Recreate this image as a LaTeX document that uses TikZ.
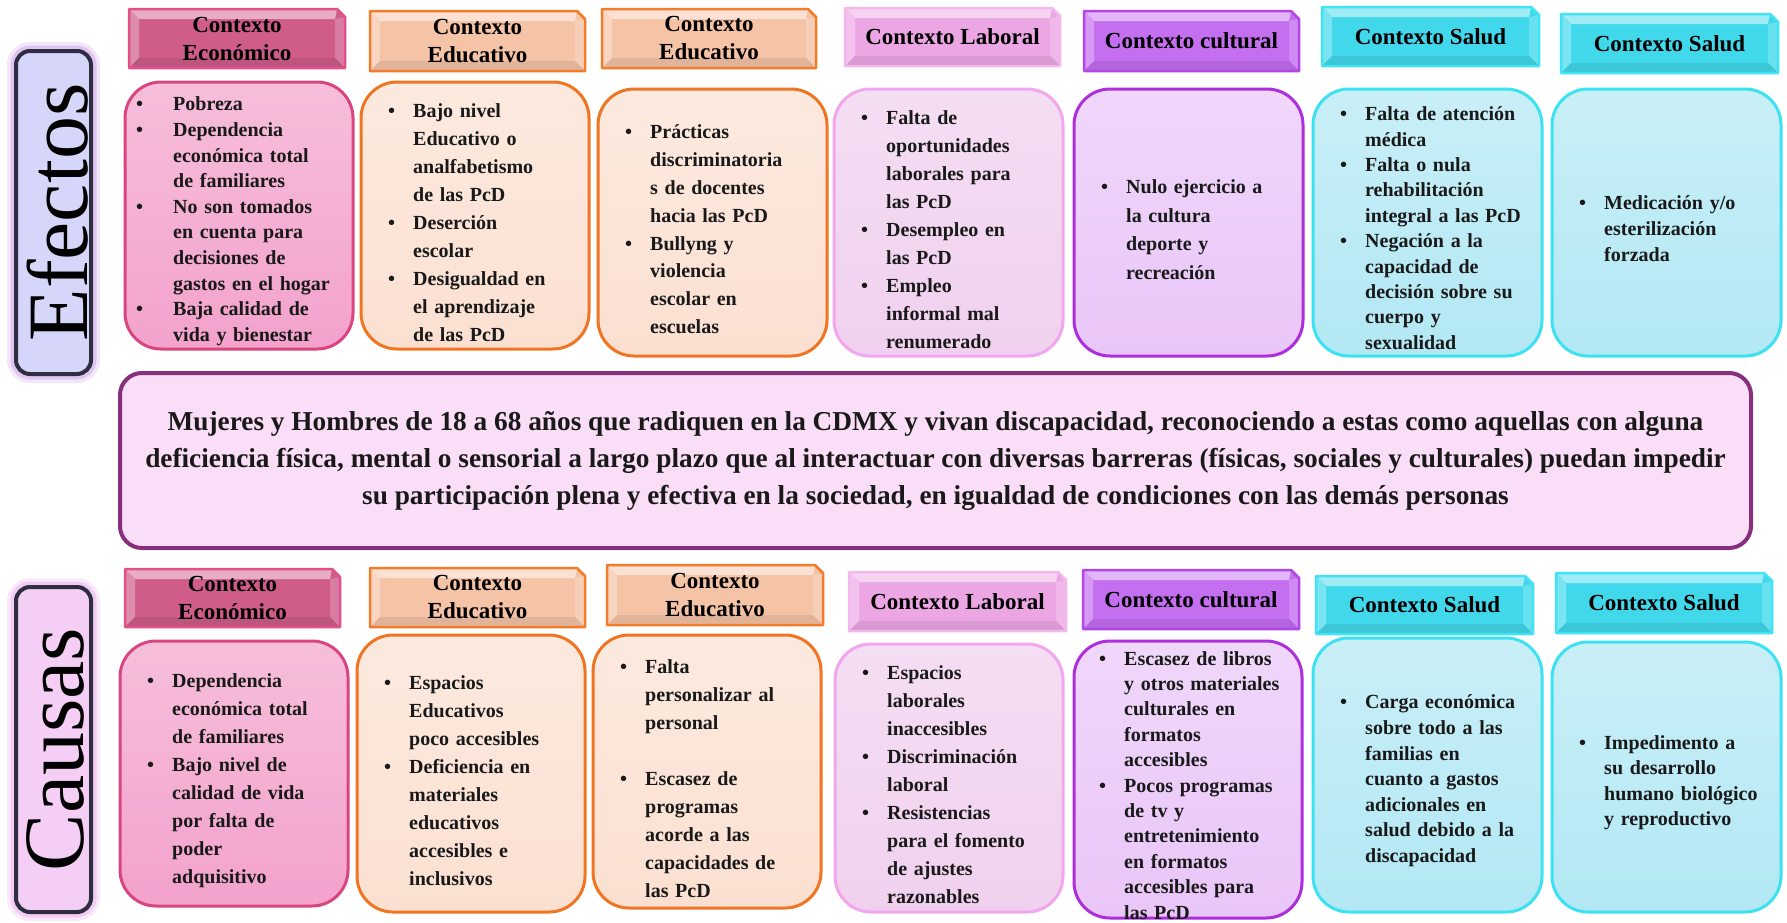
\documentclass[tikz,border=0pt]{standalone}
\usepackage{fontspec}
\setmainfont{Liberation Serif}
\usetikzlibrary{calc}
\definecolor{ecoM}{HTML}{CF5C89}\definecolor{ecoB}{HTML}{E2508A}\definecolor{ecoF}{HTML}{F3A2CC}\definecolor{ecoD}{HTML}{D9457F}
\definecolor{eduM}{HTML}{F5C3A6}\definecolor{eduB}{HTML}{F27C2A}\definecolor{eduF}{HTML}{FBE0D1}\definecolor{eduD}{HTML}{F07522}
\definecolor{labM}{HTML}{ECA6E4}\definecolor{labB}{HTML}{F2B8EE}\definecolor{labF}{HTML}{F0D0EE}\definecolor{labD}{HTML}{F2A6EE}
\definecolor{culM}{HTML}{C46EF0}\definecolor{culB}{HTML}{B445E6}\definecolor{culF}{HTML}{E9C6F8}\definecolor{culD}{HTML}{AC2EDC}
\definecolor{salM}{HTML}{41D8EC}\definecolor{salB}{HTML}{3FE3F3}\definecolor{salF}{HTML}{B2E8F4}\definecolor{salD}{HTML}{3CE2F2}
\definecolor{midB}{HTML}{86307D}\definecolor{midF}{HTML}{EFCBEB}\definecolor{midL}{HTML}{FADDF6}
\definecolor{sideB}{HTML}{2E2E40}\definecolor{efxF}{HTML}{D6D6FA}\definecolor{cauF}{HTML}{F5CEF6}
\definecolor{efxG}{HTML}{B878E0}\definecolor{cauG}{HTML}{E68AE6}
\tikzset{
  hdrtext/.style={inner sep=0pt, align=center, font=\fontsize{23}{28}\selectfont\bfseries, text=black},
  ctext/.style={inner sep=0pt, align=left, text width=196pt, font=\fontsize{20}{#1}\selectfont\bfseries, text=black!90},
  sidebox/.style={draw=sideB, line width=4pt, rounded corners=14pt, inner sep=0pt,
     preaction={draw=#1, line width=18pt, opacity=0.18, rounded corners=14pt},
     preaction={draw=#1, line width=11pt, opacity=0.3, rounded corners=14pt}},
  sidetext/.style={rotate=90, inner sep=0pt, font=\fontsize{86}{86}\selectfont}
}
\newdimen\bind \bind=25pt
\newcommand\bitem[1]{\par\leftskip=\bind\noindent\llap{\hbox to \bind{\textbullet\hss}}#1}
% header: name, cat, x1, y1, x2, y2, text
\newcommand\hdr[7]{%
  \fill[#2M] (#3,#4) -- ({#5-8},#4) -- (#5,{#4+8}) -- (#5,#6) -- (#3,#6) -- cycle;
  \fill[#2M!50!white] (#3,#4) -- ({#5-8},#4) -- ({#5-10},{#4+10}) -- ({#3+10},{#4+10}) -- cycle;
  \fill[#2M!70!white] (#3,#4) -- ({#3+10},{#4+10}) -- ({#3+10},{#6-10}) -- (#3,#6) -- cycle;
  \fill[#2M!80!white] (#5,{#4+8}) -- ({#5-10},{#4+10}) -- ({#5-10},{#6-10}) -- (#5,#6) -- cycle;
  \fill[#2M!92!black] (#3,#6) -- ({#3+10},{#6-10}) -- ({#5-10},{#6-10}) -- (#5,#6) -- cycle;
  \draw[#2B, line width=2.5pt, line join=round] (#3,#4) -- ({#5-8},#4) -- (#5,{#4+8}) -- (#5,#6) -- (#3,#6) -- cycle;
  \node[hdrtext] (#1) at ({(#3+#5)/2},{(#4+#6)/2}) {#7};
}
% content: name, cat, x1, y1, x2, y2, spacing, bullet offset, text
\newcommand\cbx[9]{%
  \node[draw=#2D, line width=3pt, rounded corners=36pt, inner sep=0pt,
        top color=#2F!70!white, middle color=#2F, bottom color=#2F,
        minimum width={#5-#3}, minimum height={#6-#4}] (#1) at ({(#3+#5)/2},{(#4+#6)/2}) {};
  \node[ctext=#7, anchor=west] (#1t) at ({#3+#8},{(#4+#6)/2}) {#9\par};
}
\begin{document}
\begin{tikzpicture}[x=1pt,y=-1pt]
\useasboundingbox (0,0) rectangle (1787,922);
\fill[white] (0,0) rectangle (1787,922);
% side labels
\node[sidebox=efxG, fill=efxF, minimum width=75pt, minimum height=323pt] (efx) at (53.5,212.5) {};
\node[sidetext] (efxt) at ($(efx.center)+(4,0)$) {Efectos};
\node[sidebox=cauG, fill=cauF, minimum width=75pt, minimum height=325pt] (cau) at (53.5,749.5) {};
\node[sidetext] (caut) at ($(cau.center)+(2,0)$) {Causas};
% top headers
\hdr{h1}{eco}{129}{9}{345}{68}{Contexto\\Económico}
\hdr{h2}{edu}{370}{11}{585}{71}{Contexto\\Educativo}
\hdr{h3}{edu}{602}{9}{816}{68}{Contexto\\Educativo}
\hdr{h4}{lab}{845}{8}{1060}{66}{Contexto Laboral}
\hdr{h5}{cul}{1084}{11}{1299}{71}{Contexto cultural}
\hdr{h6}{sal}{1322}{7}{1539}{66}{Contexto Salud}
\hdr{h7}{sal}{1561}{14}{1778}{73}{Contexto Salud}
% top content
\cbx{t1}{eco}{125}{82}{353}{349}{25.6}{11}{\bind=37pt\bitem{Pobreza}\bitem{Dependencia\\económica total\\de familiares}\bitem{No son tomados\\en cuenta para\\decisiones de\\gastos en el hogar}\bitem{Baja calidad de\\vida y bienestar}}
\cbx{t2}{edu}{361}{82}{589}{349}{28}{27}{\bitem{Bajo nivel\\Educativo o\\analfabetismo\\de las PcD}\bitem{Deserción\\escolar}\bitem{Desigualdad en\\el aprendizaje\\de las PcD}}
\cbx{t3}{edu}{598}{89}{827}{356}{27.8}{27}{\bitem{Prácticas\\discriminatoria\\s de docentes\\hacia las PcD}\bitem{Bullyng y\\violencia\\escolar en\\escuelas}}
\cbx{t4}{lab}{834}{89}{1063}{356}{28}{27}{\bitem{Falta de\\oportunidades\\laborales para\\las PcD}\bitem{Desempleo en\\las PcD}\bitem{Empleo\\informal mal\\renumerado}}
\cbx{t5}{cul}{1074}{89}{1303}{356}{28.5}{27}{\bitem{Nulo ejercicio a\\la cultura\\deporte y\\recreación}}
\cbx{t6}{sal}{1313}{89}{1542}{356}{25.4}{27}{\bitem{Falta de atención\\médica}\bitem{Falta o nula\\rehabilitación\\integral a las PcD}\bitem{Negación a la\\capacidad de\\decisión sobre su\\cuerpo y\\sexualidad}}
\cbx{t7}{sal}{1552}{89}{1781}{356}{26}{27}{\bitem{Medicación y/o\\esterilización\\forzada}}
% middle
\node[draw=midB, line width=4pt, rounded corners=22pt, inner sep=0pt, top color=midL, middle color=midF, bottom color=midL,
      minimum width=1631pt, minimum height=175pt] (mid) at (935.5,460.5) {};
\node[inner sep=0pt, align=center, font=\fontsize{27.3}{37}\selectfont\bfseries, text=black!90] (midt) at (mid.center)
 {Mujeres y Hombres de 18 a 68 años que radiquen en la CDMX y vivan discapacidad, reconociendo a estas como aquellas con alguna\\
  deficiencia física, mental o sensorial a largo plazo que al interactuar con diversas barreras (físicas, sociales y culturales) puedan impedir\\
  su participación plena y efectiva en la sociedad, en igualdad de condiciones con las demás personas};
% bottom headers
\hdr{g1}{eco}{125}{569}{340}{627}{Contexto\\Económico}
\hdr{g2}{edu}{370}{568}{585}{627}{Contexto\\Educativo}
\hdr{g3}{edu}{607}{565}{823}{625}{Contexto\\Educativo}
\hdr{g4}{lab}{849}{572}{1066}{631}{Contexto Laboral}
\hdr{g5}{cul}{1083}{570}{1299}{629}{Contexto cultural}
\hdr{g6}{sal}{1316}{576}{1533}{634}{Contexto Salud}
\hdr{g7}{sal}{1556}{573}{1772}{633}{Contexto Salud}
% bottom content
\cbx{b1}{eco}{120}{641}{348}{906}{28}{27}{\bitem{Dependencia\\económica total\\de familiares}\bitem{Bajo nivel de\\calidad de vida\\por falta de\\poder\\adquisitivo}}
\cbx{b2}{edu}{357}{635}{585}{912}{28}{27}{\bitem{Espacios\\Educativos\\poco accesibles}\bitem{Deficiencia en\\materiales\\educativos\\accesibles e\\inclusivos}}
\cbx{b3}{edu}{593}{635}{821}{908}{28}{27}{\bitem{Falta\\personalizar al\\personal}\par\vskip28pt\bitem{Escasez de\\programas\\acorde a las\\capacidades de\\las PcD}}
\cbx{b4}{lab}{835}{644}{1063}{912}{28}{27}{\bitem{Espacios\\laborales\\inaccesibles}\bitem{Discriminación\\laboral}\bitem{Resistencias\\para el fomento\\de ajustes\\razonables}}
\cbx{b5}{cul}{1074}{641}{1302}{918}{25.4}{25}{\bitem{Escasez de libros\\y otros materiales\\culturales en\\formatos\\accesibles}\bitem{Pocos programas\\de tv y\\entretenimiento\\en formatos\\accesibles para\\las PcD}}
\cbx{b6}{sal}{1313}{638}{1542}{912}{25.6}{27}{\bitem{Carga económica\\sobre todo a las\\familias en\\cuanto a gastos\\adicionales en\\salud debido a la\\discapacidad}}
\cbx{b7}{sal}{1552}{642}{1781}{912}{25.4}{27}{\bitem{Impedimento a\\su desarrollo\\humano biológico\\y reproductivo}}
\end{tikzpicture}
\end{document}
